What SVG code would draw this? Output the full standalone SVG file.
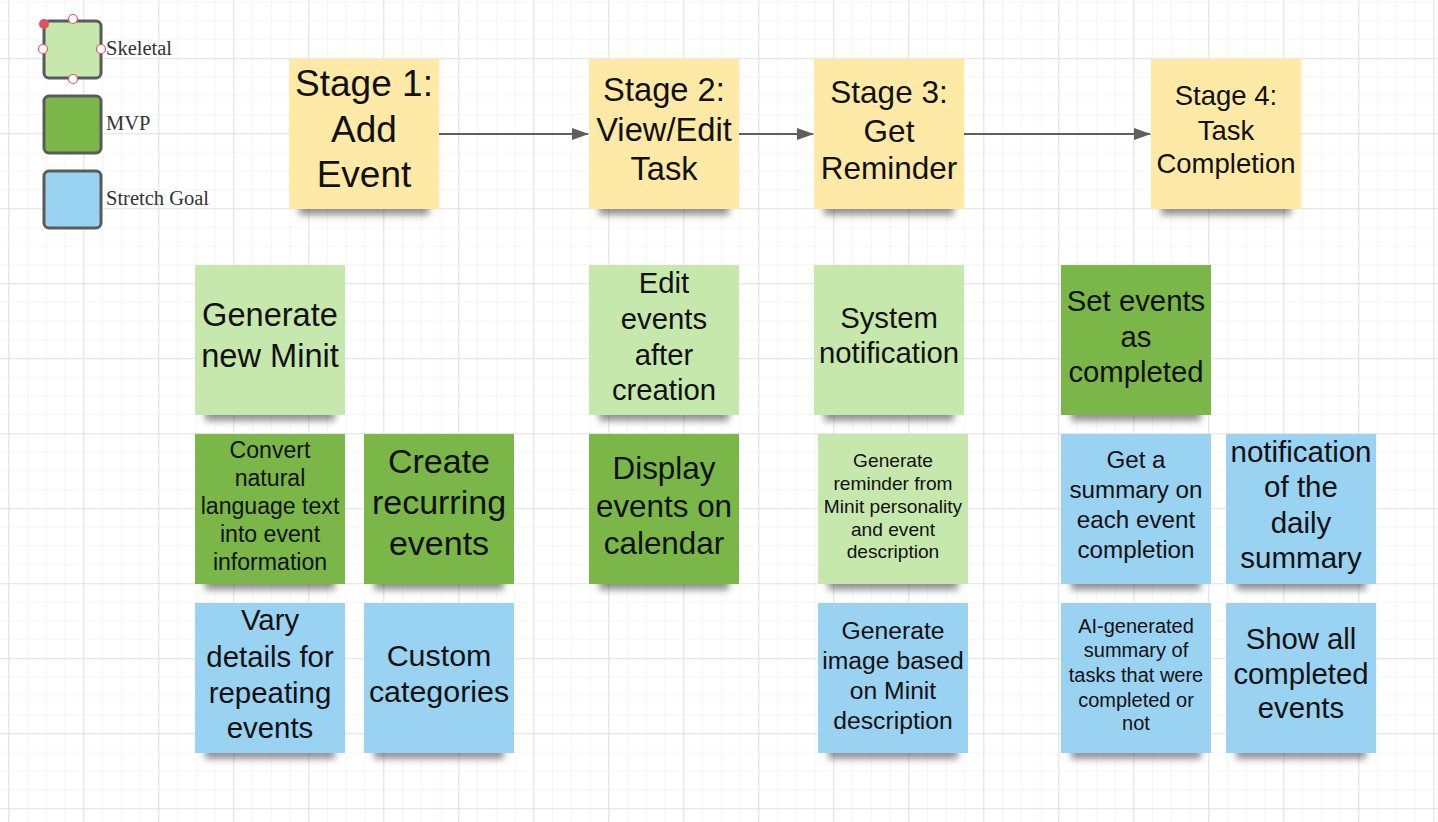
<svg xmlns="http://www.w3.org/2000/svg" width="1438" height="822" viewBox="0 0 1438 822">
<defs>
<pattern id="gridMinor" x="8.3" y="1.7" width="18.75" height="18.75" patternUnits="userSpaceOnUse">
<path d="M0 0V18.75M0 0H18.75" stroke="#ebebeb" stroke-width="1" fill="none"/>
</pattern>
<pattern id="gridMajor" x="8.3" y="58.3" width="75" height="75" patternUnits="userSpaceOnUse">
<path d="M0 0V75M0 0H75" stroke="#dcdcdc" stroke-width="1.6" fill="none"/>
</pattern>
<filter id="blur" x="-20%" y="-100%" width="140%" height="300%">
<feGaussianBlur stdDeviation="3.5"/>
</filter>
<marker id="arrow" viewBox="0 0 17 12" refX="16" refY="6" markerWidth="17" markerHeight="12" markerUnits="userSpaceOnUse" orient="auto">
<path d="M0 0L17 6L0 12Z" fill="#5f5f5f"/>
</marker>
<style>
.t{font-family:"Liberation Sans",Arial,sans-serif;fill:#111;text-anchor:middle}
.leg{font-family:"Liberation Serif","Times New Roman",serif;font-size:20.5px;fill:#333}
.yel{fill:#feeaa6}
.lg{fill:#c7e8ac}
.dg{fill:#7ab648}
.bl{fill:#9ad2f2}
.sh{fill:#3a3a3a;opacity:.55;filter:url(#blur)}
.lbox{stroke:#5a5a5a;stroke-width:3}
.conn{stroke:#5f5f5f;stroke-width:2;fill:none;marker-end:url(#arrow)}
.hnd{fill:#fff;stroke:#e05263;stroke-width:1.2}
</style>
</defs>

<rect width="1438" height="822" fill="#ffffff"/>
<rect width="1438" height="822" fill="url(#gridMinor)"/>
<rect width="1438" height="822" fill="url(#gridMajor)"/>

<g id="legend">
<rect class="lbox lg" x="44" y="21" width="57" height="57" rx="5"/>
<rect class="lbox dg" x="44" y="96" width="57" height="57" rx="5"/>
<rect class="lbox bl" x="44" y="171" width="57" height="57" rx="5"/>
<circle cx="44" cy="24" r="5" fill="#e05263"/>
<circle class="hnd" cx="73" cy="19" r="4.5"/>
<circle class="hnd" cx="43" cy="49" r="4.5"/>
<circle class="hnd" cx="101" cy="49" r="4.5"/>
<circle class="hnd" cx="73" cy="79" r="4.5"/>
<text class="leg" x="106" y="55">Skeletal</text>
<text class="leg" x="106" y="130">MVP</text>
<text class="leg" x="106" y="205">Stretch Goal</text>
</g>

<g id="connectors">
<path class="conn" d="M439 134H588"/>
<path class="conn" d="M739 134H813"/>
<path class="conn" d="M964 134H1150"/>
</g>

<g id="stage1">
<rect class="sh" x="299" y="199" width="130" height="16"/>
<rect class="yel" x="289" y="59" width="150" height="150"/>
<text class="t" font-size="37"><tspan x="364" y="95.7">Stage 1:</tspan><tspan x="364" y="141.7">Add</tspan><tspan x="364" y="186.7">Event</tspan></text>
</g>

<g id="stage2">
<rect class="sh" x="599" y="199" width="130" height="16"/>
<rect class="yel" x="589" y="59" width="150" height="150"/>
<text class="t" font-size="32.7"><tspan x="664" y="100.7">Stage 2:</tspan><tspan x="664" y="140.7">View/Edit</tspan><tspan x="664" y="180">Task</tspan></text>
</g>

<g id="stage3">
<rect class="sh" x="824" y="199" width="130" height="16"/>
<rect class="yel" x="814" y="59" width="150" height="150"/>
<text class="t" font-size="31.5"><tspan x="889" y="103.3">Stage 3:</tspan><tspan x="889" y="141.7">Get</tspan><tspan x="889" y="179.3">Reminder</tspan></text>
</g>

<g id="stage4">
<rect class="sh" x="1161" y="199" width="130" height="16"/>
<rect class="yel" x="1151" y="59" width="150" height="150"/>
<text class="t" font-size="27.5"><tspan x="1226" y="105">Stage 4:</tspan><tspan x="1226" y="140">Task</tspan><tspan x="1226" y="172.7">Completion</tspan></text>
</g>

<g id="generate-new-minit">
<rect class="sh" x="205" y="405" width="130" height="16"/>
<rect class="lg" x="195" y="265" width="150" height="150"/>
<text class="t" font-size="32.6"><tspan x="270" y="326">Generate</tspan><tspan x="270" y="366.7">new Minit</tspan></text>
</g>

<g id="edit-events">
<rect class="sh" x="599" y="405" width="130" height="16"/>
<rect class="lg" x="589" y="265" width="150" height="150"/>
<text class="t" font-size="29.3"><tspan x="664" y="292.7">Edit</tspan><tspan x="664" y="329">events</tspan><tspan x="664" y="365">after</tspan><tspan x="664" y="400">creation</tspan></text>
</g>

<g id="system-notification">
<rect class="sh" x="824" y="405" width="130" height="16"/>
<rect class="lg" x="814" y="265" width="150" height="150"/>
<text class="t" font-size="29.3"><tspan x="889" y="328.3">System</tspan><tspan x="889" y="363.3">notification</tspan></text>
</g>

<g id="set-events-completed">
<rect class="sh" x="1071" y="405" width="130" height="16"/>
<rect class="dg" x="1061" y="265" width="150" height="150"/>
<text class="t" font-size="29.3"><tspan x="1136" y="311">Set events</tspan><tspan x="1136" y="346.7">as</tspan><tspan x="1136" y="382.3">completed</tspan></text>
</g>

<g id="convert-natural-language">
<rect class="sh" x="205" y="574" width="130" height="16"/>
<rect class="dg" x="195" y="434" width="150" height="150"/>
<text class="t" font-size="23.1"><tspan x="270" y="458.3">Convert</tspan><tspan x="270" y="486">natural</tspan><tspan x="270" y="514.3">language text</tspan><tspan x="270" y="542.3">into event</tspan><tspan x="270" y="570">information</tspan></text>
</g>

<g id="create-recurring">
<rect class="sh" x="374" y="574" width="130" height="16"/>
<rect class="dg" x="364" y="434" width="150" height="150"/>
<text class="t" font-size="34"><tspan x="439" y="473.3">Create</tspan><tspan x="439" y="514.3">recurring</tspan><tspan x="439" y="555">events</tspan></text>
</g>

<g id="display-events">
<rect class="sh" x="599" y="574" width="130" height="16"/>
<rect class="dg" x="589" y="434" width="150" height="150"/>
<text class="t" font-size="31.4"><tspan x="664" y="479">Display</tspan><tspan x="664" y="517">events on</tspan><tspan x="664" y="554">calendar</tspan></text>
</g>

<g id="generate-reminder">
<rect class="sh" x="828" y="574" width="130" height="16"/>
<rect class="lg" x="818" y="434" width="150" height="150"/>
<text class="t" font-size="19.15"><tspan x="893" y="466.7">Generate</tspan><tspan x="893" y="490">reminder from</tspan><tspan x="893" y="513.3">Minit personality</tspan><tspan x="893" y="535.7">and event</tspan><tspan x="893" y="558.3">description</tspan></text>
</g>

<g id="get-summary">
<rect class="sh" x="1071" y="574" width="130" height="16"/>
<rect class="bl" x="1061" y="434" width="150" height="150"/>
<text class="t" font-size="24.2"><tspan x="1136" y="468.3">Get a</tspan><tspan x="1136" y="498.3">summary on</tspan><tspan x="1136" y="528.3">each event</tspan><tspan x="1136" y="558.3">completion</tspan></text>
</g>

<g id="daily-summary-notification">
<rect class="sh" x="1236" y="574" width="130" height="16"/>
<rect class="bl" x="1226" y="434" width="150" height="150"/>
<text class="t" font-size="29.5"><tspan x="1301" y="461.7">notification</tspan><tspan x="1301" y="496.7">of the</tspan><tspan x="1301" y="533.3">daily</tspan><tspan x="1301" y="568.3">summary</tspan></text>
</g>

<g id="vary-details">
<rect class="sh" x="205" y="743" width="130" height="16"/>
<rect class="bl" x="195" y="603" width="150" height="150"/>
<text class="t" font-size="29.4"><tspan x="270" y="630">Vary</tspan><tspan x="270" y="666.7">details for</tspan><tspan x="270" y="703.3">repeating</tspan><tspan x="270" y="737.7">events</tspan></text>
</g>

<g id="custom-categories">
<rect class="sh" x="374" y="743" width="130" height="16"/>
<rect class="bl" x="364" y="603" width="150" height="150"/>
<text class="t" font-size="30.4"><tspan x="439" y="665.7">Custom</tspan><tspan x="439" y="702.3">categories</tspan></text>
</g>

<g id="generate-image">
<rect class="sh" x="828" y="743" width="130" height="16"/>
<rect class="bl" x="818" y="603" width="150" height="150"/>
<text class="t" font-size="24.7"><tspan x="893" y="639">Generate</tspan><tspan x="893" y="669">image based</tspan><tspan x="893" y="699">on Minit</tspan><tspan x="893" y="729">description</tspan></text>
</g>

<g id="ai-summary">
<rect class="sh" x="1071" y="743" width="130" height="16"/>
<rect class="bl" x="1061" y="603" width="150" height="150"/>
<text class="t" font-size="20"><tspan x="1136" y="633.3">AI-generated</tspan><tspan x="1136" y="656.7">summary of</tspan><tspan x="1136" y="681.7">tasks that were</tspan><tspan x="1136" y="706.7">completed or</tspan><tspan x="1136" y="730">not</tspan></text>
</g>

<g id="show-completed">
<rect class="sh" x="1236" y="743" width="130" height="16"/>
<rect class="bl" x="1226" y="603" width="150" height="150"/>
<text class="t" font-size="29.3"><tspan x="1301" y="649.3">Show all</tspan><tspan x="1301" y="684">completed</tspan><tspan x="1301" y="718.3">events</tspan></text>
</g>
</svg>
